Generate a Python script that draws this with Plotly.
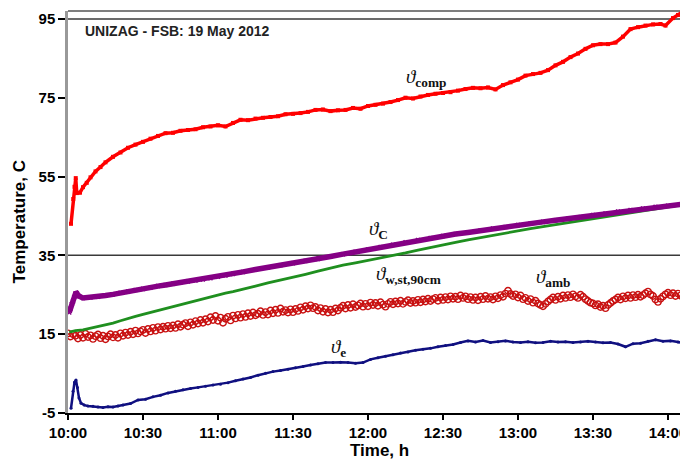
import plotly.graph_objects as go

# ---------------- data (minutes after 10:00) ----------------
comp_t = [1.2, 2.1, 2.6, 3.1, 3.5, 4.8, 6, 7.5, 9, 11, 13, 15, 18, 21, 24, 27, 30, 33, 36, 39,
          42, 45, 48, 51, 54, 57, 60, 63, 66, 69, 72, 75, 78, 81, 84, 87, 90, 93, 96, 99,
          102, 105, 108, 111, 114, 117, 120, 123, 126, 129, 132, 135, 138, 141, 144, 147,
          150, 153, 156, 159, 162, 165, 168, 171, 174, 177, 180, 183, 186, 189, 192, 195,
          198, 201, 204, 207, 210, 213, 216, 219, 222, 225, 228, 231, 234, 237, 239, 242, 244, 246]
comp_v = [43.0, 49.3, 52.4, 54.6, 50.8, 50.9, 52.3, 53.4, 54.8, 56.3, 57.4, 58.6, 60.0, 61.1,
          62.3, 63.1, 63.8, 64.6, 65.3, 66.0, 66.1, 66.6, 66.8, 67.0, 67.5, 67.7, 68.0, 67.7,
          68.6, 69.4, 69.3, 69.7, 69.9, 70.1, 70.3, 70.8, 70.9, 71.1, 71.4, 71.9, 72.0, 71.6,
          71.8, 71.9, 72.4, 72.2, 72.9, 73.2, 73.5, 73.9, 74.4, 75.0, 74.8, 75.3, 75.7, 76.0,
          76.2, 76.4, 76.8, 77.2, 77.5, 77.4, 77.6, 77.1, 78.2, 78.9, 79.6, 80.6, 81.0, 81.3,
          82.0, 83.2, 84.1, 85.3, 86.2, 87.4, 88.3, 88.6, 88.6, 89.0, 90.5, 92.4, 92.9, 93.3,
          93.6, 93.7, 93.3, 95.2, 96.0, 96.8]

c_t = [0.5, 1.0, 1.5, 2.0, 2.5, 3.0, 3.5, 4.5, 6, 9, 12, 15, 18, 21, 24, 27, 30, 33, 36, 39,
       42, 45, 48, 51, 54, 57, 60, 63, 66, 70, 75, 80, 85, 90, 95, 100, 105, 110, 115, 120,
       125, 130, 135, 140, 145, 150, 155, 160, 165, 170, 175, 180, 185, 190, 195, 200, 205,
       210, 215, 220, 225, 230, 235, 240, 246]
c_v = [20.5, 21.5, 22.6, 23.3, 24.4, 25.3, 25.4, 24.6, 24.2, 24.3, 24.5, 24.8, 25.1, 25.5,
       25.8, 26.2, 26.5, 26.8, 27.2, 27.5, 27.8, 28.1, 28.4, 28.6, 28.9, 29.2, 29.6, 29.9,
       30.3, 30.8, 31.4, 31.9, 32.5, 33.0, 33.6, 34.1, 34.7, 35.3, 35.9, 36.5, 37.1, 37.7,
       38.3, 38.9, 39.4, 39.9, 40.4, 40.8, 41.3, 41.8, 42.2, 42.7, 43.1, 43.5, 43.9, 44.3,
       44.7, 45.2, 45.6, 46.1, 46.5, 46.9, 47.3, 47.6, 48.0]

w_t = [0.5, 3, 6, 9, 12, 15, 18, 21, 24, 27, 30, 33, 36, 39, 42, 45, 48, 51, 54, 57, 60, 63,
       66, 70, 75, 80, 85, 90, 95, 100, 105, 110, 115, 120, 125, 130, 135, 140, 145, 150,
       155, 160, 165, 170, 175, 180, 185, 190, 195, 200, 205, 210, 215, 220, 225, 230, 235,
       240, 246]
w_v = [15.5, 15.9, 16.1, 16.5, 16.9, 17.3, 17.8, 18.4, 19.0, 19.5, 20.0, 20.5, 21.0, 21.5,
       22.0, 22.5, 22.9, 23.4, 23.9, 24.4, 24.9, 25.4, 25.8, 26.5, 27.2, 28.0, 28.7, 29.5,
       30.2, 31.0, 31.8, 32.5, 33.1, 33.7, 34.3, 35.0, 35.6, 36.3, 37.0, 37.7, 38.3, 38.9,
       39.5, 40.1, 40.7, 41.3, 41.8, 42.3, 42.8, 43.3, 43.8, 44.3, 44.8, 45.3, 45.9, 46.4,
       46.9, 47.4, 47.9]

e_t = [1.2, 2.0, 2.6, 3.2, 3.8, 4.4, 5.2, 6.5, 8, 10, 12, 14, 16, 18, 20, 22, 25, 28, 31, 34,
       37, 40, 43, 46, 49, 52, 55, 58, 61, 64, 67, 70, 73, 76, 79, 82, 85, 88, 91, 94, 97,
       100, 103, 106, 109, 112, 115, 118, 121, 124, 127, 130, 133, 136, 139, 142, 145, 148,
       151, 154, 157, 160, 163, 166, 169, 172, 175, 178, 181, 184, 187, 190, 193, 196, 199,
       202, 205, 208, 211, 214, 217, 220, 223, 226, 229, 232, 235, 238, 241, 244, 246]
e_v = [-3.8, 0.5, 2.8, 3.4, 1.5, -1.2, -2.5, -3.0, -3.2, -3.3, -3.5, -3.6, -3.4, -3.5, -3.2,
       -3.0, -2.6, -1.7, -1.5, -0.9, -0.5, 0.1, 0.5, 0.9, 1.2, 1.5, 1.8, 2.1, 2.3, 2.7, 3.2,
       3.6, 4.0, 4.6, 5.1, 5.5, 5.8, 6.1, 6.5, 6.8, 7.2, 7.5, 7.8, 7.8, 7.9, 7.8, 7.6, 7.8,
       8.6, 9.0, 9.4, 9.8, 10.2, 10.5, 10.9, 11.2, 11.4, 11.8, 12.1, 12.4, 12.9, 13.3, 13.0,
       13.4, 12.9, 13.1, 13.3, 13.0, 12.9, 13.1, 12.8, 12.9, 13.2, 13.0, 13.1, 12.9, 13.0,
       13.2, 13.0, 12.8, 12.9, 12.5, 11.8, 12.6, 12.7, 13.2, 13.6, 13.2, 13.3, 13.0, 12.8]

amb_t = list(range(0, 247))
amb_v = [15.2, 14.4, 15.0, 14.6, 13.9, 14.8, 14.1, 15.1, 14.3, 14.7,
         13.8, 14.5, 14.9, 14.0, 14.6, 13.7, 14.4, 15.0, 14.2, 14.8,
         14.1, 15.2, 14.6, 15.4, 14.8, 15.6, 15.0, 15.9, 15.2, 15.7,
         16.1, 15.3, 16.3, 15.7, 16.6, 15.9, 16.8, 16.2, 16.9, 16.4,
         17.1, 16.5, 17.2, 16.6, 17.5, 16.9, 17.4, 17.8, 17.0, 18.0,
         17.4, 18.3, 17.7, 18.6, 17.9, 18.8, 18.2, 19.3, 18.6, 19.6,
         18.4, 19.2, 17.9, 18.9, 19.4, 18.5, 19.7, 19.0, 19.9, 19.2,
         20.1, 19.4, 20.3, 19.6, 20.5, 19.8, 20.2, 20.8, 19.9, 20.6,
         20.0, 21.0, 20.3, 21.2, 20.4, 21.5, 20.7, 21.1, 20.5, 21.3,
         20.6, 21.4, 20.9, 21.8, 21.2, 22.1, 21.5, 22.3, 21.6, 21.9,
         21.0, 21.6, 20.7, 21.4, 20.5, 21.2, 20.6, 21.5, 21.0, 21.7,
         22.2, 21.5, 22.4, 21.7, 22.6, 21.9, 22.3, 22.8, 22.0, 22.7,
         22.1, 23.0, 22.4, 22.9, 22.2, 23.1, 22.5, 22.0, 22.7, 23.2,
         22.6, 23.3, 22.8, 23.5, 22.7, 23.2, 23.6, 22.9, 23.4, 23.0,
         23.7, 23.1, 23.8, 23.3, 24.0, 23.4, 23.9, 24.2, 23.5, 24.3,
         23.7, 24.4, 23.8, 24.6, 24.0, 24.5, 23.9, 24.8, 24.2, 24.6,
         23.9, 24.4, 23.7, 24.3, 23.6, 24.5, 23.9, 24.7, 24.0, 24.4,
         23.8, 24.6, 24.1, 24.9, 24.5, 25.3, 26.0, 25.2, 24.7, 25.1,
         24.3, 24.8, 23.9, 24.2, 23.4, 23.9, 23.0, 23.5, 22.8, 22.4,
         22.1, 22.7, 23.3, 23.8, 24.3, 23.7, 24.5, 24.0, 24.8, 24.2,
         24.9, 24.4, 25.1, 24.6, 24.2, 25.0, 24.5, 23.9, 23.4, 23.0,
         22.8, 22.3, 22.6, 21.9, 22.2, 21.6, 22.4, 22.9, 23.4, 23.8,
         24.3, 23.8, 24.6, 24.1, 24.8, 24.2, 24.9, 24.4, 25.0, 24.5,
         24.9, 25.4, 25.8, 25.1, 24.7, 23.8, 23.2, 24.0, 24.6, 25.1,
         25.5, 24.9, 25.4, 24.7, 25.3, 24.8, 24.5]

tick_vals = [0, 30, 60, 90, 120, 150, 180, 210, 240]
tick_text = ["10:00", "10:30", "11:00", "11:30", "12:00", "12:30", "13:00", "13:30", "14:00"]
y_ticks = [-5, 15, 35, 55, 75, 95]
grid_levels = [35, 95]

labels = [
    ("ϑ", "comp", 143, 80.0),
    ("ϑ", "C", 124, 41.4),
    ("ϑ", "w,st,90cm", 136, 30.0),
    ("ϑ", "amb", 194, 29.3),
    ("ϑ", "e", 108, 11.4),
]

# ---------------- figure ----------------
fig = go.Figure()

fig.add_trace(go.Scatter(x=amb_t, y=amb_v, mode="markers",
                         marker=dict(symbol="circle-open", size=6.5, color="#c81010",
                                     line=dict(width=1.4, color="#c81010")),
                         showlegend=False))
fig.add_trace(go.Scatter(x=w_t, y=w_v, mode="lines",
                         line=dict(color="#1f8f1f", width=2.8), showlegend=False))
fig.add_trace(go.Scatter(x=c_t, y=c_v, mode="lines+markers",
                         line=dict(color="#850085", width=5.5),
                         marker=dict(symbol="x-thin", size=4, color="#850085",
                                     line=dict(width=1.5, color="#850085")),
                         showlegend=False))
fig.add_trace(go.Scatter(x=e_t, y=e_v, mode="lines+markers",
                         line=dict(color="#101080", width=2.5),
                         marker=dict(size=3, color="#101080"), showlegend=False))
fig.add_trace(go.Scatter(x=comp_t, y=comp_v, mode="lines+markers",
                         line=dict(color="#ff0000", width=3.5),
                         marker=dict(symbol="square", size=4, color="#ff0000"),
                         showlegend=False))

for lvl in grid_levels:
    fig.add_shape(type="line", xref="paper", x0=0, x1=1, yref="y", y0=lvl, y1=lvl,
                  line=dict(color="#3a3a3a", width=1.5), layer="below")
fig.add_shape(type="line", xref="paper", x0=0, x1=1, yref="paper", y0=1, y1=1,
              line=dict(color="#000000", width=1.2))

for sym, sub, tx, ty in labels:
    fig.add_annotation(x=tx, y=ty, xref="x", yref="y", showarrow=False,
                       text=f"<i>{sym}</i><sub><b>{sub}</b></sub>",
                       font=dict(family="Liberation Serif, DejaVu Serif, serif",
                                 size=19, color="#111111"))

fig.add_annotation(x=0.024, y=0.951, xref="paper", yref="paper", showarrow=False,
                   xanchor="left", yanchor="middle", text="<b>UNIZAG - FSB: 19 May 2012</b>",
                   font=dict(family="Liberation Sans, Arial, sans-serif", size=14,
                             color="#222222"))

# axis titles placed as annotations for exact placement
fig.add_annotation(x=0.503, y=0, xref="paper", yref="paper", yshift=-37, showarrow=False,
                   xanchor="center", yanchor="middle", text="<b>Time, h</b>",
                   font=dict(family="Liberation Sans, Arial, sans-serif", size=17,
                             color="#000000"))
fig.add_annotation(x=0, y=0.474, xref="paper", yref="paper", xshift=-49, showarrow=False,
                   xanchor="center", yanchor="middle", textangle=-90,
                   text="<b>Temperature, C</b>",
                   font=dict(family="Liberation Sans, Arial, sans-serif", size=17,
                             color="#000000"))

# The page body adds an 8 px offset, so the figure is 8 px smaller on each axis
tick_font = dict(size=15, family="Liberation Sans, Arial, sans-serif", color="#000")
fig.update_layout(
    width=680, height=456,
    margin=dict(l=60, r=0, t=3, b=51),
    paper_bgcolor="white", plot_bgcolor="white",
    font=dict(family="Liberation Sans, Arial, sans-serif", color="#000000"),
    xaxis=dict(range=[0, 248], tickmode="array", tickvals=tick_vals,
               ticktext=[f"<b>{t}</b>" for t in tick_text], automargin=False,
               showgrid=False, zeroline=False, showline=True, linecolor="#000000",
               linewidth=1.5, ticks="outside", ticklen=5, tickwidth=1.5, tickcolor="#000",
               tickfont=tick_font),
    yaxis=dict(range=[-5, 97], tickmode="array", tickvals=y_ticks,
               ticktext=[f"<b>{v}</b>" for v in y_ticks], automargin=False,
               showgrid=False, zeroline=False, showline=True, linecolor="#999999",
               linewidth=2.5, ticks="outside", ticklen=7, tickwidth=1.5, tickcolor="#000",
               tickfont=tick_font),
)

fig.write_html("out.html")
